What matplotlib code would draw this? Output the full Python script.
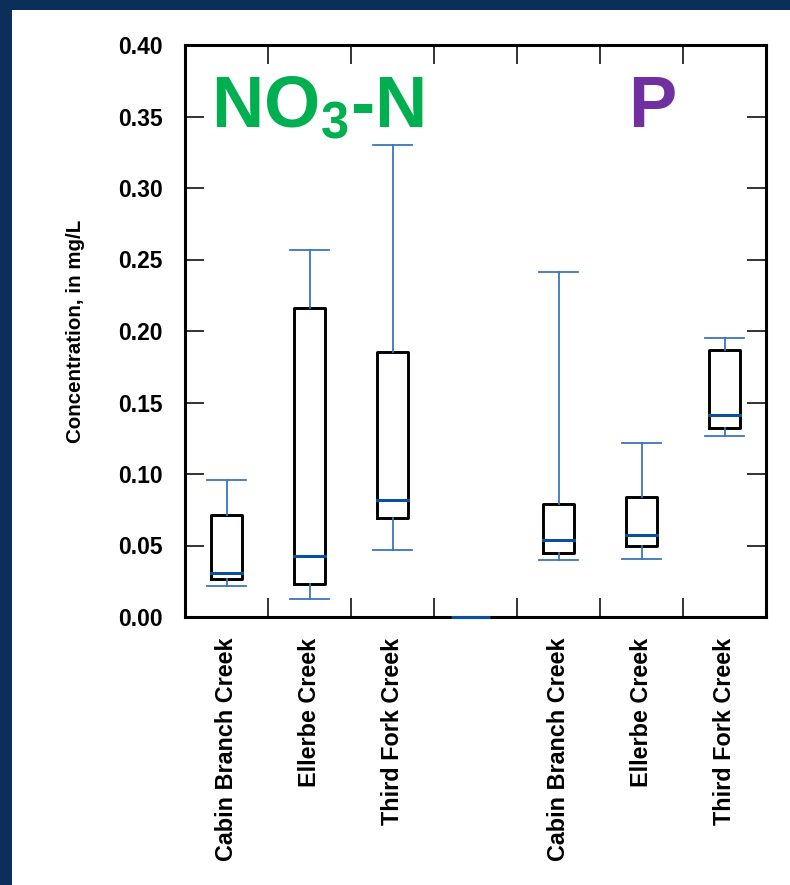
import matplotlib
matplotlib.use("Agg")
import matplotlib.pyplot as plt
from matplotlib.patches import Rectangle

plt.rcParams['font.family'] = ['Liberation Sans', 'DejaVu Sans']
plt.rcParams['mathtext.fontset'] = 'custom'
plt.rcParams['mathtext.bf'] = 'Liberation Sans:bold'
plt.rcParams['mathtext.rm'] = 'Liberation Sans:bold'

# box statistics per creek, concentrations in mg/L
creeks   = ["Cabin Branch Creek", "Ellerbe Creek", "Third Fork Creek"]
no3_whislo = [0.0217, 0.0126, 0.0469]
no3_q1     = [0.0266, 0.0231, 0.0692]
no3_med    = [0.0306, 0.0427, 0.0818]
no3_q3     = [0.0711, 0.2159, 0.1853]
no3_whishi = [0.0960, 0.2566, 0.3303]

p_whislo = [0.0399, 0.0408, 0.1266]
p_q1     = [0.0450, 0.0499, 0.1324]
p_med    = [0.0538, 0.0573, 0.1410]
p_q3     = [0.0792, 0.0837, 0.1867]
p_whishi = [0.2410, 0.1215, 0.1953]

# empty spacer slot between the two groups
gap_pos = 4
gap_med = 0.0

no3_pos = [1, 2, 3]
p_pos   = [5, 6, 7]

box_col = "black"
whisk_col = "#3a76bd"
med_col = "#0b4f9f"
navy = "#0b2f58"


def make_stats(lo, q1, med, q3, hi):
    stats = []
    for a, b, c, d, e in zip(lo, q1, med, q3, hi):
        stats.append(dict(whislo=a, q1=b, med=c, q3=d, whishi=e, fliers=[]))
    return stats


fig = plt.figure(figsize=(7.9, 8.85), dpi=100)
fig.patch.set_facecolor("white")
# navy frame along the top and left edge
fig.patches.append(Rectangle((0, 1 - 10 / 885), 1, 10 / 885, transform=fig.transFigure,
                             facecolor=navy, edgecolor="none", zorder=0))
fig.patches.append(Rectangle((0, 0), 12 / 790, 1, transform=fig.transFigure,
                             facecolor=navy, edgecolor="none", zorder=0))

ax = fig.add_axes([185 / 790, 1 - 617 / 885, 581 / 790, 572 / 885])

all_stats = make_stats(no3_whislo, no3_q1, no3_med, no3_q3, no3_whishi) + \
            make_stats(p_whislo, p_q1, p_med, p_q3, p_whishi)
ax.bxp(all_stats, positions=no3_pos + p_pos, widths=0.37, capwidths=0.47,
       showfliers=False,
       boxprops=dict(color=box_col, linewidth=2.1),
       whiskerprops=dict(color=whisk_col, linewidth=1.3),
       capprops=dict(color=whisk_col, linewidth=1.3),
       medianprops=dict(color=med_col, linewidth=2.2, solid_capstyle="projecting"))

# spacer slot only shows its zero median
ax.hlines(gap_med, gap_pos - 0.29, gap_pos + 0.18, color=med_col, linewidth=2.2,
          zorder=5, clip_on=False)

ax.set_xlim(0.5, 7.5)
ax.set_ylim(0, 0.40)
ax.set_yticks([0.00, 0.05, 0.10, 0.15, 0.20, 0.25, 0.30, 0.35, 0.40])
ax.set_yticklabels(["%.2f" % v for v in ax.get_yticks()], fontsize=16.5, fontweight="bold")

# boundary ticks between categories, labels on category centres
ax.set_xticks([1.5, 2.5, 3.5, 4.5, 5.5, 6.5])
ax.set_xticklabels([])
ax.set_xticks(no3_pos + p_pos, minor=True)
ax.set_xticklabels(creeks + creeks, minor=True, rotation=90, fontsize=16.8,
                   fontweight="bold", va="top")
ax.tick_params(axis="x", which="minor", length=0, pad=15)
ax.tick_params(axis="both", which="major", direction="in", length=14, width=1.3,
               top=True, right=True, color="#222222")
ax.tick_params(axis="y", which="major", pad=16)

for s in ax.spines.values():
    s.set_linewidth(2.2)

ax.set_ylabel("Concentration, in mg/L", fontsize=14.8, fontweight="bold", labelpad=24)

ax.text(0.045, 0.857, r"NO$_\mathbf{3}$-N", transform=ax.transAxes, fontsize=52,
        fontweight="bold", color="#00b050", va="baseline")
ax.text(0.762, 0.857, "P", transform=ax.transAxes, fontsize=52, fontweight="bold",
        color="#7030a0", va="baseline")

fig.savefig("out.png", dpi=100)
